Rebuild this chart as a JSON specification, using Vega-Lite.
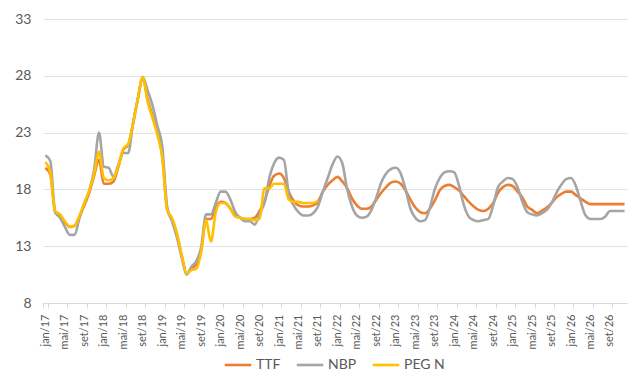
{
  "$schema": "https://vega.github.io/schema/vega-lite/v6.json",
  "width": 584,
  "height": 284,
  "autosize": {"type": "none"},
  "padding": {"left": 43, "top": 19, "right": 1, "bottom": 73},
  "background": "white",
  "config": {
    "font": "Lato",
    "view": {"stroke": null}
  },
  "data": {
    "values": [
      {"m": "jan/17", "TTF": 19.9, "NBP": 21.0, "PEG N": 20.4},
      {"m": "fev/17", "TTF": 19.3, "NBP": 20.5, "PEG N": 19.5},
      {"m": "mar/17", "TTF": 16.0, "NBP": 16.0, "PEG N": 16.1},
      {"m": "abr/17", "TTF": 15.7, "NBP": 15.5, "PEG N": 15.8},
      {"m": "mai/17", "TTF": 15.1, "NBP": 14.7, "PEG N": 15.2},
      {"m": "jun/17", "TTF": 14.7, "NBP": 14.0, "PEG N": 14.7},
      {"m": "jul/17", "TTF": 14.8, "NBP": 14.0, "PEG N": 14.8},
      {"m": "ago/17", "TTF": 15.6, "NBP": 15.5, "PEG N": 15.7},
      {"m": "set/17", "TTF": 16.6, "NBP": 16.8, "PEG N": 16.8},
      {"m": "out/17", "TTF": 17.7, "NBP": 17.9, "PEG N": 17.9},
      {"m": "nov/17", "TTF": 19.2, "NBP": 19.7, "PEG N": 19.4},
      {"m": "dez/17", "TTF": 20.6, "NBP": 23.0, "PEG N": 21.3},
      {"m": "jan/18", "TTF": 18.5, "NBP": 20.0, "PEG N": 19.0},
      {"m": "fev/18", "TTF": 18.5, "NBP": 19.9, "PEG N": 18.8},
      {"m": "mar/18", "TTF": 18.7, "NBP": 19.1, "PEG N": 19.0},
      {"m": "abr/18", "TTF": 20.0, "NBP": 20.2, "PEG N": 20.1},
      {"m": "mai/18", "TTF": 21.5, "NBP": 21.2, "PEG N": 21.6},
      {"m": "jun/18", "TTF": 21.9, "NBP": 21.2, "PEG N": 22.0},
      {"m": "jul/18", "TTF": 23.8, "NBP": 23.8, "PEG N": 23.8},
      {"m": "ago/18", "TTF": 26.0, "NBP": 26.0, "PEG N": 26.0},
      {"m": "set/18", "TTF": 27.8, "NBP": 27.9, "PEG N": 27.9},
      {"m": "out/18", "TTF": 25.9, "NBP": 26.7, "PEG N": 25.7},
      {"m": "nov/18", "TTF": 24.5, "NBP": 25.4, "PEG N": 24.3},
      {"m": "dez/18", "TTF": 23.0, "NBP": 23.6, "PEG N": 22.8},
      {"m": "jan/19", "TTF": 21.0, "NBP": 21.8, "PEG N": 20.8},
      {"m": "fev/19", "TTF": 16.3, "NBP": 16.5, "PEG N": 16.2},
      {"m": "mar/19", "TTF": 15.3, "NBP": 15.2, "PEG N": 15.5},
      {"m": "abr/19", "TTF": 14.0, "NBP": 13.8, "PEG N": 14.2},
      {"m": "mai/19", "TTF": 12.2, "NBP": 12.0, "PEG N": 12.2},
      {"m": "jun/19", "TTF": 10.6, "NBP": 10.5, "PEG N": 10.6},
      {"m": "jul/19", "TTF": 11.0, "NBP": 11.2, "PEG N": 10.9},
      {"m": "ago/19", "TTF": 11.4, "NBP": 11.7, "PEG N": 11.0},
      {"m": "set/19", "TTF": 12.6, "NBP": 12.9, "PEG N": 12.5},
      {"m": "out/19", "TTF": 15.4, "NBP": 15.8, "PEG N": 15.3},
      {"m": "nov/19", "TTF": 15.4, "NBP": 15.8, "PEG N": 13.4},
      {"m": "dez/19", "TTF": 16.4, "NBP": 16.8, "PEG N": 16.0},
      {"m": "jan/20", "TTF": 16.9, "NBP": 17.8, "PEG N": 16.8},
      {"m": "fev/20", "TTF": 16.8, "NBP": 17.8, "PEG N": 16.8},
      {"m": "mar/20", "TTF": 16.3, "NBP": 17.1, "PEG N": 16.3},
      {"m": "abr/20", "TTF": 15.7, "NBP": 16.0, "PEG N": 15.6},
      {"m": "mai/20", "TTF": 15.5, "NBP": 15.5, "PEG N": 15.5},
      {"m": "jun/20", "TTF": 15.4, "NBP": 15.2, "PEG N": 15.4},
      {"m": "jul/20", "TTF": 15.4, "NBP": 15.2, "PEG N": 15.4},
      {"m": "ago/20", "TTF": 15.5, "NBP": 14.9, "PEG N": 15.3},
      {"m": "set/20", "TTF": 16.1, "NBP": 15.9, "PEG N": 15.4},
      {"m": "out/20", "TTF": 16.9, "NBP": 16.8, "PEG N": 18.1},
      {"m": "nov/20", "TTF": 18.3, "NBP": 19.0, "PEG N": 18.1},
      {"m": "dez/20", "TTF": 19.2, "NBP": 20.3, "PEG N": 18.5},
      {"m": "jan/21", "TTF": 19.4, "NBP": 20.8, "PEG N": 18.5},
      {"m": "fev/21", "TTF": 19.0, "NBP": 20.6, "PEG N": 18.5},
      {"m": "mar/21", "TTF": 17.8, "NBP": 17.6, "PEG N": 17.1},
      {"m": "abr/21", "TTF": 17.0, "NBP": 16.6, "PEG N": 16.9},
      {"m": "mai/21", "TTF": 16.6, "NBP": 16.0, "PEG N": 16.9},
      {"m": "jun/21", "TTF": 16.5, "NBP": 15.7, "PEG N": 16.8},
      {"m": "jul/21", "TTF": 16.5, "NBP": 15.7, "PEG N": 16.8},
      {"m": "ago/21", "TTF": 16.6, "NBP": 15.9, "PEG N": 16.8},
      {"m": "set/21", "TTF": 16.9, "NBP": 16.5, "PEG N": 17.0},
      {"m": "out/21", "TTF": 17.8, "NBP": 17.8, "PEG N": null},
      {"m": "nov/21", "TTF": 18.4, "NBP": 19.0, "PEG N": null},
      {"m": "dez/21", "TTF": 18.8, "NBP": 20.2, "PEG N": null},
      {"m": "jan/22", "TTF": 19.1, "NBP": 20.9, "PEG N": null},
      {"m": "fev/22", "TTF": 18.7, "NBP": 20.3, "PEG N": null},
      {"m": "mar/22", "TTF": 18.1, "NBP": 18.0, "PEG N": null},
      {"m": "abr/22", "TTF": 17.2, "NBP": 16.5, "PEG N": null},
      {"m": "mai/22", "TTF": 16.6, "NBP": 15.7, "PEG N": null},
      {"m": "jun/22", "TTF": 16.3, "NBP": 15.5, "PEG N": null},
      {"m": "jul/22", "TTF": 16.3, "NBP": 15.6, "PEG N": null},
      {"m": "ago/22", "TTF": 16.5, "NBP": 16.2, "PEG N": null},
      {"m": "set/22", "TTF": 17.1, "NBP": 17.3, "PEG N": null},
      {"m": "out/22", "TTF": 17.7, "NBP": 18.6, "PEG N": null},
      {"m": "nov/22", "TTF": 18.2, "NBP": 19.4, "PEG N": null},
      {"m": "dez/22", "TTF": 18.6, "NBP": 19.8, "PEG N": null},
      {"m": "jan/23", "TTF": 18.7, "NBP": 19.9, "PEG N": null},
      {"m": "fev/23", "TTF": 18.5, "NBP": 19.4, "PEG N": null},
      {"m": "mar/23", "TTF": 17.9, "NBP": 18.0, "PEG N": null},
      {"m": "abr/23", "TTF": 17.1, "NBP": 16.3, "PEG N": null},
      {"m": "mai/23", "TTF": 16.4, "NBP": 15.5, "PEG N": null},
      {"m": "jun/23", "TTF": 16.0, "NBP": 15.2, "PEG N": null},
      {"m": "jul/23", "TTF": 15.9, "NBP": 15.3, "PEG N": null},
      {"m": "ago/23", "TTF": 16.3, "NBP": 16.4, "PEG N": null},
      {"m": "set/23", "TTF": 17.0, "NBP": 18.0, "PEG N": null},
      {"m": "out/23", "TTF": 17.9, "NBP": 19.0, "PEG N": null},
      {"m": "nov/23", "TTF": 18.3, "NBP": 19.5, "PEG N": null},
      {"m": "dez/23", "TTF": 18.4, "NBP": 19.6, "PEG N": null},
      {"m": "jan/24", "TTF": 18.2, "NBP": 19.5, "PEG N": null},
      {"m": "fev/24", "TTF": 17.9, "NBP": 18.3, "PEG N": null},
      {"m": "mar/24", "TTF": 17.4, "NBP": 16.6, "PEG N": null},
      {"m": "abr/24", "TTF": 16.9, "NBP": 15.6, "PEG N": null},
      {"m": "mai/24", "TTF": 16.5, "NBP": 15.3, "PEG N": null},
      {"m": "jun/24", "TTF": 16.2, "NBP": 15.2, "PEG N": null},
      {"m": "jul/24", "TTF": 16.1, "NBP": 15.3, "PEG N": null},
      {"m": "ago/24", "TTF": 16.3, "NBP": 15.4, "PEG N": null},
      {"m": "set/24", "TTF": 16.8, "NBP": 16.6, "PEG N": null},
      {"m": "out/24", "TTF": 17.7, "NBP": 18.2, "PEG N": null},
      {"m": "nov/24", "TTF": 18.2, "NBP": 18.7, "PEG N": null},
      {"m": "dez/24", "TTF": 18.4, "NBP": 19.0, "PEG N": null},
      {"m": "jan/25", "TTF": 18.3, "NBP": 18.9, "PEG N": null},
      {"m": "fev/25", "TTF": 17.8, "NBP": 18.2, "PEG N": null},
      {"m": "mar/25", "TTF": 17.3, "NBP": 16.9, "PEG N": null},
      {"m": "abr/25", "TTF": 16.5, "NBP": 16.0, "PEG N": null},
      {"m": "mai/25", "TTF": 16.2, "NBP": 15.8, "PEG N": null},
      {"m": "jun/25", "TTF": 15.9, "NBP": 15.7, "PEG N": null},
      {"m": "jul/25", "TTF": 16.1, "NBP": 15.9, "PEG N": null},
      {"m": "ago/25", "TTF": 16.4, "NBP": 16.2, "PEG N": null},
      {"m": "set/25", "TTF": 16.8, "NBP": 16.8, "PEG N": null},
      {"m": "out/25", "TTF": 17.3, "NBP": 17.7, "PEG N": null},
      {"m": "nov/25", "TTF": 17.6, "NBP": 18.4, "PEG N": null},
      {"m": "dez/25", "TTF": 17.8, "NBP": 18.9, "PEG N": null},
      {"m": "jan/26", "TTF": 17.8, "NBP": 19.0, "PEG N": null},
      {"m": "fev/26", "TTF": 17.5, "NBP": 18.3, "PEG N": null},
      {"m": "mar/26", "TTF": 17.2, "NBP": 16.9, "PEG N": null},
      {"m": "abr/26", "TTF": 16.9, "NBP": 15.7, "PEG N": null},
      {"m": "mai/26", "TTF": 16.7, "NBP": 15.4, "PEG N": null},
      {"m": "jun/26", "TTF": 16.7, "NBP": 15.4, "PEG N": null},
      {"m": "jul/26", "TTF": 16.7, "NBP": 15.4, "PEG N": null},
      {"m": "ago/26", "TTF": 16.7, "NBP": 15.6, "PEG N": null},
      {"m": "set/26", "TTF": 16.7, "NBP": 16.1, "PEG N": null},
      {"m": "out/26", "TTF": 16.7, "NBP": 16.1, "PEG N": null},
      {"m": "nov/26", "TTF": 16.7, "NBP": 16.1, "PEG N": null},
      {"m": "dez/26", "TTF": 16.7, "NBP": 16.1, "PEG N": null}
    ]
  },
  "transform": [
    {"fold": ["TTF", "NBP", "PEG N"], "as": ["s", "v"]},
    {"filter": "isValid(datum.v)"}
  ],
  "mark": {"type": "line", "strokeWidth": 2.6, "interpolate": "monotone"},
  "encoding": {
    "x": {
      "field": "m",
      "type": "ordinal",
      "sort": null,
      "scale": {"type": "band", "paddingInner": 0, "paddingOuter": 0},
      "axis": {
        "title": null,
        "values": ["jan/17","mai/17","set/17","jan/18","mai/18","set/18","jan/19","mai/19","set/19","jan/20","mai/20","set/20","jan/21","mai/21","set/21","jan/22","mai/22","set/22","jan/23","mai/23","set/23","jan/24","mai/24","set/24","jan/25","mai/25","set/25","jan/26","mai/26","set/26"],
        "labelAngle": -90,
        "labelFontSize": 11,
        "labelColor": "#595959",
        "labelPadding": 6,
        "tickBand": "extent",
        "tickColor": "#d9d9d9",
        "tickSize": 5,
        "domainColor": "#d9d9d9",
        "grid": false
      }
    },
    "y": {
      "field": "v",
      "type": "quantitative",
      "scale": {"domain": [8, 33], "nice": false, "zero": false},
      "axis": {
        "title": null,
        "values": [8, 13, 18, 23, 28, 33],
        "labelFontSize": 14,
        "labelColor": "#595959",
        "labelPadding": 12,
        "domain": false,
        "ticks": false,
        "gridColor": "#e3e3e3",
        "gridWidth": 1
      }
    },
    "color": {
      "field": "s",
      "type": "nominal",
      "sort": null,
      "scale": {"domain": ["TTF", "NBP", "PEG N"], "range": ["#ED7D31", "#A5A5A5", "#FFC000"]},
      "legend": {
        "title": null,
        "orient": "none",
        "legendX": 180,
        "legendY": 331,
        "direction": "horizontal",
        "symbolType": "stroke",
        "symbolSize": 700,
        "symbolStrokeWidth": 2.6,
        "labelFontSize": 14,
        "labelColor": "#595959",
        "labelOffset": 3,
        "columnPadding": 10
      }
    }
  }
}
